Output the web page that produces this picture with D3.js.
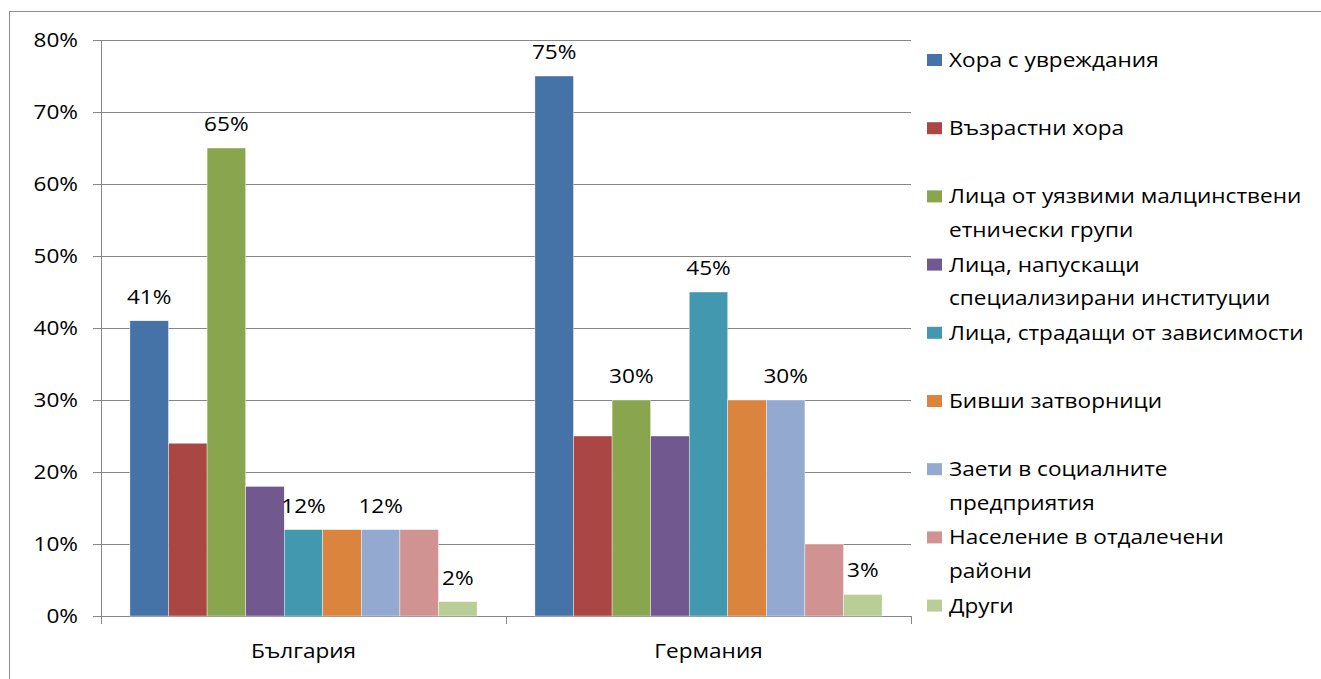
<!DOCTYPE html>
<html>
<head>
<meta charset="utf-8">
<script src="https://cdn.jsdelivr.net/npm/d3@7"></script>
<style>
  html, body { margin: 0; padding: 0; background: #ffffff; }
  svg { display: block; }
  text { font-family: "Open Sans", "Noto Sans", sans-serif; fill: #000; }
</style>
</head>
<body>
<svg id="chart" width="1321" height="679"></svg>
<script>
// ---- data ----
const categories = ["България", "Германия"];
const seriesNames = [
  "Хора с увреждания",
  "Възрастни хора",
  "Лица от уязвими малцинствени етнически групи",
  "Лица, напускащи специализирани институции",
  "Лица, страдащи от зависимости",
  "Бивши затворници",
  "Заети в социалните предприятия",
  "Население в отдалечени райони",
  "Други"
];
const legendLines = [
  ["Хора с увреждания"],
  ["Възрастни хора"],
  ["Лица от уязвими малцинствени", "етнически групи"],
  ["Лица, напускащи", "специализирани институции"],
  ["Лица, страдащи от зависимости"],
  ["Бивши затворници"],
  ["Заети в социалните", "предприятия"],
  ["Население в отдалечени", "райони"],
  ["Други"]
];
const valuesBulgaria = [0.41, 0.24, 0.65, 0.18, 0.12, 0.12, 0.12, 0.12, 0.02];
const valuesGermany  = [0.75, 0.25, 0.30, 0.25, 0.45, 0.30, 0.30, 0.10, 0.03];
const labeledSeries = [true, false, true, false, true, false, true, false, true];
const yTicks = [0, 0.1, 0.2, 0.3, 0.4, 0.5, 0.6, 0.7, 0.8];
const colors = ["#4572A7", "#AA4643", "#89A54E", "#71588F", "#4198AF",
                "#DB843D", "#93A9CF", "#D19392", "#B9CD96"];

// ---- layout ----
const svg = d3.select("#chart");
const SX = 1.13;           // horizontal text stretch of the original
const FS = 20;             // font size
const plotL = 101, plotR = 911, plotT = 40, plotB = 616;

// outer chart border
svg.append("rect")
  .attr("x", 9.5).attr("y", 11.5)
  .attr("width", 1330).attr("height", 700)
  .attr("fill", "none").attr("stroke", "#8c8c8c").attr("stroke-width", 1);

const x0 = d3.scaleBand().domain(categories).range([plotL, plotR]).paddingInner(0).paddingOuter(0);
const bw = x0.bandwidth();
const w = bw / 10.5;
const x1 = d3.scaleBand().domain(d3.range(seriesNames.length))
  .range([0.75 * w, bw - 0.75 * w]).padding(0);
const y = d3.scaleLinear().domain([0, 0.8]).range([plotB, plotT]);

// gridlines
svg.append("g").selectAll("line").data(yTicks).join("line")
  .attr("x1", plotL - 8).attr("x2", plotR)
  .attr("y1", d => Math.round(y(d)) + 0.5).attr("y2", d => Math.round(y(d)) + 0.5)
  .attr("stroke", "#868686").attr("stroke-width", 1);

// y axis line
svg.append("line")
  .attr("x1", plotL + 0.5).attr("x2", plotL + 0.5)
  .attr("y1", plotT).attr("y2", plotB + 8)
  .attr("stroke", "#868686");

// x axis tick marks at category boundaries
const bounds = [plotL, plotL + bw, plotR];
svg.append("g").selectAll("line").data(bounds).join("line")
  .attr("x1", d => Math.round(d) + 0.5).attr("x2", d => Math.round(d) + 0.5)
  .attr("y1", plotB).attr("y2", plotB + 8)
  .attr("stroke", "#868686");

// y tick labels
svg.append("g").selectAll("text").data(yTicks).join("text")
  .attr("transform", d => `translate(78,${y(d)}) scale(${SX},1)`)
  .attr("text-anchor", "end").attr("dy", "0.35em")
  .style("font-size", FS + "px")
  .text(d => d3.format(".0%")(d));

// category labels
svg.append("g").selectAll("text").data(categories).join("text")
  .attr("transform", d => `translate(${x0(d) + bw / 2},${651}) scale(${SX},1)`)
  .attr("text-anchor", "middle").attr("dy", "0.35em")
  .style("font-size", FS + "px")
  .text(d => d);

// bars
const dataByCat = [valuesBulgaria, valuesGermany];
const groups = svg.append("g").selectAll("g").data(categories).join("g")
  .attr("transform", d => `translate(${x0(d)},0)`);

groups.selectAll("rect").data((d, ci) => dataByCat[ci].map((v, si) => ({v, si})))
  .join("rect")
  .attr("x", d => x1(d.si))
  .attr("y", d => y(d.v))
  .attr("width", x1.bandwidth())
  .attr("height", d => y(0) - y(d.v))
  .attr("fill", d => colors[d.si])
  .attr("stroke", "#ffffff").attr("stroke-width", 0.4);

groups.selectAll("text").data((d, ci) => dataByCat[ci].map((v, si) => ({v, si})).filter(d => labeledSeries[d.si]))
  .join("text")
  .attr("transform", d => `translate(${x1(d.si) + x1.bandwidth() / 2},${y(d.v) - 24}) scale(${SX},1)`)
  .attr("text-anchor", "middle").attr("dy", "0.35em")
  .style("font-size", FS + "px")
  .text(d => d3.format(".0%")(d.v));

// legend
const legend = svg.append("g");
const legY0 = 60, legStep = 68.2, lineH = 33.5;
legendLines.forEach((lines, i) => {
  const yy = legY0 + legStep * i;
  legend.append("rect")
    .attr("x", 927).attr("y", yy - 6)
    .attr("width", 15).attr("height", 12)
    .attr("fill", colors[i]);
  lines.forEach((ln, k) => {
    legend.append("text")
      .attr("transform", `translate(949,${yy + k * lineH}) scale(${SX},1)`)
      .attr("dy", "0.35em")
      .style("font-size", FS + "px")
      .text(ln);
  });
});
</script>
</body>
</html>
